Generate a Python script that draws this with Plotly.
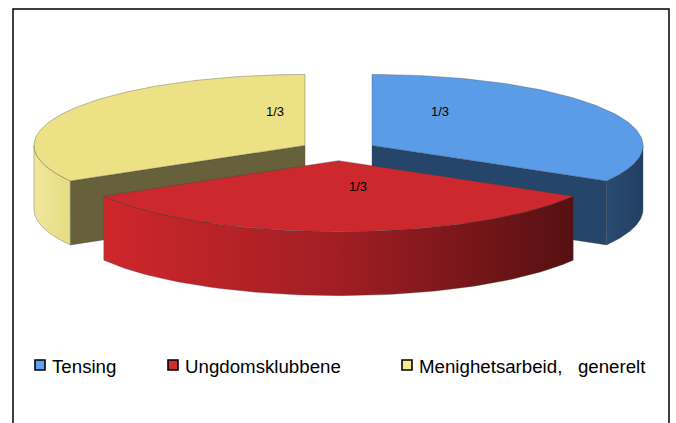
import numpy as np
import plotly.graph_objects as go
from fractions import Fraction

# ---- data ----
categories = ["Tensing", "Ungdomsklubbene", "Menighetsarbeid,   generelt"]
values = [1, 1, 1]

# ---- styles ----
top_colors = ["#5B9CE8", "#CC282D", "#ECE184"]
legend_colors = ["#5EA2F2", "#D42A30", "#F2EA8C"]
wall_colors = ["#25456B", "#7A1418", "#67613B"]
rim_scales = [
    [[0, "#2A4B72"], [1, "#213F63"]],
    [[0, "#CE272C"], [0.5, "#A11E23"], [1, "#561012"]],
    [[0, "#F0E79C"], [1, "#E6DC82"]],
]
EDGE = dict(color="rgba(60,60,60,0.55)", width=0.6)

# ---- 3D pie geometry (pixel space) ----
W, H = 676, 423
CX, CY = 338.5, 150.5
RX, RY = 271.0, 71.0
DEPTH = 64.0
EXPLODE = 38.7
START = 90.0  # first slice starts at 12 o'clock, clockwise

total = sum(values)
fracs = [v / total for v in values]


def arc(ox, oy, a_from, a_to, dz=0.0, n=90):
    t = np.radians(np.linspace(a_from, a_to, n))
    return ox + RX * np.cos(t), oy - RY * np.sin(t) + dz


slices = []
cum = 0.0
for i, f in enumerate(fracs):
    a1 = START - cum * 360.0
    a2 = START - (cum + f) * 360.0
    cum += f
    mid = np.radians((a1 + a2) / 2)
    ox = CX + EXPLODE * np.cos(mid)
    oy = CY - EXPLODE * (RY / RX) * np.sin(mid)
    slices.append(dict(i=i, a1=a1, a2=a2, mid=mid, ox=ox, oy=oy))

# painter's order: back slices first
order = sorted(slices, key=lambda s: -np.sin(s["mid"]))

fig = go.Figure()


def poly(xs, ys, **kw):
    fig.add_trace(go.Scatter(x=list(xs) + [xs[0]], y=list(ys) + [ys[0]], mode="lines",
                             fill="toself", line=EDGE, hoverinfo="skip",
                             showlegend=False, **kw))


for s in order:
    i, a1, a2, ox, oy = s["i"], s["a1"], s["a2"], s["ox"], s["oy"]
    # radial walls facing the viewer
    for ang, normal in ((a1, a1 + 90.0), (a2, a2 - 90.0)):
        if np.sin(np.radians(normal)) < -1e-6:
            px = ox + RX * np.cos(np.radians(ang))
            py = oy - RY * np.sin(np.radians(ang))
            poly([ox, px, px, ox], [oy, py, py + DEPTH, oy + DEPTH],
                 fillcolor=wall_colors[i])
    # outer rim (front half only)
    for k in range(-2, 2):
        lo = max(a2, -180.0 + 360.0 * k)
        hi = min(a1, 0.0 + 360.0 * k)
        if lo < hi:
            tx, ty = arc(ox, oy, hi, lo)
            bx, by = arc(ox, oy, lo, hi, DEPTH)
            poly(np.concatenate([tx, bx]), np.concatenate([ty, by]),
                 fillgradient=dict(type="horizontal", colorscale=rim_scales[i]))
    # top face
    tx, ty = arc(ox, oy, a1, a2)
    poly(np.concatenate([[ox], tx]), np.concatenate([[oy], ty]),
         fillcolor=top_colors[i])

annotations = []
# data labels
for s in slices:
    fr = Fraction(values[s["i"]], total)
    lx = s["ox"] + 0.209 * RX * np.cos(s["mid"]) + 19
    ly = s["oy"] - 0.56 * RY * np.sin(s["mid"]) - 14
    annotations.append(dict(x=lx, y=ly, text=f"{fr.numerator}/{fr.denominator}",
                            showarrow=False, xanchor="center", yanchor="middle",
                            font=dict(family="Liberation Sans, Arial", size=13, color="#000")))

# legend (manual, Excel-like layout)
leg_x = [40, 173, 407]
leg_y = 365
fig.add_trace(go.Scatter(x=leg_x, y=[leg_y] * 3, mode="markers", hoverinfo="skip",
                         showlegend=False,
                         marker=dict(symbol="square", size=10, color=legend_colors,
                                     line=dict(color="#000", width=1.6))))
for lx, name in zip(leg_x, categories):
    annotations.append(dict(x=lx + 10, y=leg_y + 1, text=name.replace(" ", "\u00a0"),
                            showarrow=False, xanchor="left", yanchor="middle",
                            font=dict(family="Liberation Sans, Arial", size=18.7, color="#000")))

fig.update_layout(
    width=W, height=H, autosize=False,
    margin=dict(l=0, r=0, t=0, b=0),
    paper_bgcolor="white", plot_bgcolor="white",
    xaxis=dict(range=[0, W], visible=False, fixedrange=True),
    yaxis=dict(range=[H, 0], visible=False, fixedrange=True),
    annotations=annotations,
    shapes=[dict(type="rect", x0=13, y0=9, x1=669, y1=H + 10,
                 line=dict(color="#000", width=1.5), layer="above")],
)

fig.write_html("out.html", config=dict(displayModeBar=False, staticPlot=True),
               post_script="document.body.style.margin='0';document.body.style.overflow='hidden';")
